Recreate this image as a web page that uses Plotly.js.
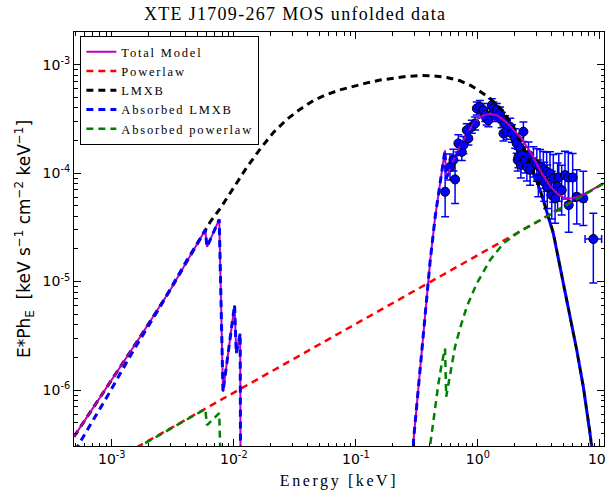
<!DOCTYPE html>
<html><head><meta charset="utf-8">
<script src="https://cdn.plot.ly/plotly-3.0.1.min.js"></script>
<style>
html,body{margin:0;padding:0;background:#fff;}
#chart{width:606px;height:491px;}
.gtitle{letter-spacing:1.3px;}
.xtitle{letter-spacing:2.6px;}
.legendtext{letter-spacing:1.8px;}
</style></head><body><div id="chart"></div>
<script>
// ---- data ----
const dataE = [0.539,0.591,0.630,0.650,0.692,0.738,0.760,0.811,0.836,0.891,0.949,0.980,1.04,1.11,1.15,1.18,1.22,1.30,1.34,1.38,1.43,1.52,1.57,1.62,1.67,1.72,1.84,1.90,2.02,2.08,2.12,2.15,2.22,2.25,2.29,2.36,2.44,2.52,2.60,2.68,2.85,3.04,3.13,3.23,3.44,3.50,3.66,3.70,3.90,4.03,4.15,4.29,4.50,4.60,4.86,5.17,5.51,5.55,5.98,6.46,7.31,8.83];
const dataF = [6.73e-5,1.14e-4,1.32e-4,8.75e-5,1.88e-4,1.57e-4,1.81e-4,2.49e-4,2.09e-4,2.67e-4,2.87e-4,3.95e-4,4.08e-4,3.81e-4,3.43e-4,3.19e-4,3.08e-4,4.23e-4,3.95e-4,3.43e-4,3.81e-4,3.55e-4,3.08e-4,2.32e-4,2.87e-4,2.41e-4,2.67e-4,2.32e-4,2.09e-4,1.88e-4,1.32e-4,1.41e-4,1.69e-4,1.19e-4,1.47e-4,2.41e-4,1.32e-4,1.14e-4,1.47e-4,1.07e-4,1.27e-4,1.19e-4,8.93e-5,1.14e-4,1.07e-4,8.32e-5,1.03e-4,7.48e-5,9.93e-5,6.27e-5,8.93e-5,5.85e-5,7.48e-5,9.12e-5,6.97e-5,9.59e-5,9.12e-5,5.07e-5,9.12e-5,6.05e-5,5.85e-5,2.47e-5];
const dataErrUp = [4.70e-5,3.63e-5,3.42e-5,5.78e-5,3.80e-5,3.17e-5,3.66e-5,3.69e-5,3.09e-5,3.95e-5,4.25e-5,5.85e-5,6.04e-5,5.64e-5,5.08e-5,4.72e-5,4.56e-5,6.26e-5,5.85e-5,5.08e-5,5.64e-5,5.25e-5,5.39e-5,4.06e-5,5.02e-5,4.22e-5,5.39e-5,4.69e-5,4.81e-5,4.32e-5,3.42e-5,3.65e-5,4.38e-5,3.78e-5,3.81e-5,5.54e-5,4.20e-5,3.98e-5,4.67e-5,4.07e-5,4.83e-5,4.91e-5,4.28e-5,5.07e-5,5.13e-5,4.28e-5,5.29e-5,4.38e-5,5.81e-5,4.14e-5,5.89e-5,4.08e-5,4.94e-5,6.02e-5,4.87e-5,6.33e-5,6.36e-5,3.94e-5,6.02e-5,4.71e-5,4.55e-5,1.80e-5];
const dataErrDn = [2.77e-5,2.75e-5,2.72e-5,3.50e-5,3.16e-5,2.64e-5,3.04e-5,3.21e-5,2.70e-5,3.44e-5,3.70e-5,5.10e-5,5.26e-5,4.91e-5,4.42e-5,4.12e-5,3.97e-5,5.46e-5,5.10e-5,4.42e-5,4.91e-5,4.58e-5,4.59e-5,3.46e-5,4.28e-5,3.59e-5,4.49e-5,3.90e-5,3.91e-5,3.52e-5,2.72e-5,2.90e-5,3.48e-5,2.87e-5,3.03e-5,4.51e-5,3.18e-5,2.95e-5,3.54e-5,2.95e-5,3.51e-5,3.47e-5,2.89e-5,3.51e-5,3.47e-5,2.82e-5,3.49e-5,2.76e-5,3.66e-5,2.49e-5,3.55e-5,2.40e-5,2.97e-5,3.62e-5,2.86e-5,3.81e-5,3.75e-5,2.22e-5,3.62e-5,2.65e-5,2.56e-5,1.50e-5];
const dataXErrUp = [0.02,0.02,0.02,0.02,0.02,0.02,0.02,0.025,0.025,0.025,0.025,0.025,0.03,0.03,0.03,0.03,0.03,0.035,0.035,0.035,0.035,0.04,0.04,0.04,0.045,0.045,0.05,0.05,0.05,0.05,0.05,0.05,0.06,0.06,0.06,0.06,0.07,0.07,0.07,0.08,0.08,0.1,0.1,0.1,0.1,0.12,0.12,0.12,0.12,0.15,0.15,0.15,0.18,0.18,0.2,0.22,0.25,0.25,0.3,0.35,0.4,1.5];
const dataXErrDn = [0.02,0.02,0.02,0.02,0.02,0.02,0.02,0.025,0.025,0.025,0.025,0.025,0.03,0.03,0.03,0.03,0.03,0.035,0.035,0.035,0.035,0.04,0.04,0.04,0.045,0.045,0.05,0.05,0.05,0.05,0.05,0.05,0.06,0.06,0.06,0.06,0.07,0.07,0.07,0.08,0.08,0.1,0.1,0.1,0.1,0.12,0.12,0.12,0.12,0.15,0.15,0.15,0.18,0.18,0.2,0.22,0.25,0.25,0.3,0.35,0.4,1.28];

const totalE = [4.9e-4,1.71e-3,3.01e-3,5.83e-3,6.03e-3,7.59e-3,8.15e-3,1.014e-2,1.047e-2,1.127e-2,1.143e-2,0.28,0.297,0.331,0.372,0.407,0.447,0.490,0.537,0.550,0.631,0.708,0.794,0.891,1.0,1.122,1.259,1.413,1.585,1.778,1.995,2.239,2.512,2.818,3.162,3.548,3.981,4.467,5.012,5.623,6.310,7.079,7.943,8.913,10.72];
const totalF = [3.72e-7,3.10e-6,8.36e-6,2.99e-5,2.09e-5,3.74e-5,9.64e-7,6.07e-6,2.18e-6,3.33e-6,1e-8,1e-8,3.47e-7,1.26e-6,5.01e-6,1.58e-5,3.98e-5,8.51e-5,1.62e-4,8.91e-5,1.32e-4,1.74e-4,2.19e-4,2.72e-4,3.16e-4,3.43e-4,3.51e-4,3.43e-4,3.16e-4,2.82e-4,2.45e-4,2.14e-4,1.76e-4,1.43e-4,1.11e-4,8.91e-5,7.41e-5,6.46e-5,5.96e-5,5.82e-5,5.96e-5,6.24e-5,6.68e-5,7.16e-5,8.04e-5];

const powE = [4.9e-4,6.21e-3,1.99e-2,0.231,3.23,10.67];
const powF = [1.40e-7,7.02e-7,1.48e-6,7.00e-6,3.69e-5,8.04e-5];

const lmxbE = [4.9e-4,1.71e-3,3.01e-3,5.83e-3,6.41e-3,7.74e-3,9.95e-3,1.28e-2,1.65e-2,2.11e-2,2.72e-2,3.50e-2,4.50e-2,5.78e-2,7.43e-2,9.55e-2,0.123,0.158,0.203,0.262,0.337,0.433,0.556,0.714,0.863,1.009,1.259,1.585,1.995,2.512,3.228,3.436,4.150,5.012,5.689,6.457,7.311,8.299,9.55];
const lmxbF = [3.72e-7,3.10e-6,8.36e-6,2.99e-5,3.56e-5,4.73e-5,7.23e-5,1.135e-4,1.68e-4,2.37e-4,3.13e-4,3.89e-4,4.68e-4,5.31e-4,5.86e-4,6.34e-4,6.79e-4,7.21e-4,7.55e-4,7.80e-4,7.94e-4,7.89e-4,7.62e-4,7.10e-4,6.47e-4,5.82e-4,4.88e-4,3.80e-4,2.57e-4,1.48e-4,7.08e-5,5.69e-5,2.80e-5,9.66e-6,4.76e-6,2.34e-6,1.07e-6,4.0e-7,1e-7];

const absLmxbE = [5.01e-4,5.52e-4,9.14e-4,1.51e-3,2.49e-3,4.13e-3,5.31e-3,5.83e-3,6.03e-3,7.59e-3,8.15e-3,1.014e-2,1.047e-2,1.127e-2,1.143e-2,0.28,0.297,0.331,0.372,0.407,0.447,0.490,0.537,0.550,0.631,0.794,1.0,1.259,1.585,1.995,2.512,3.228,3.436,4.150,5.012,5.689,6.457,7.311,8.299,8.570,9.55];
const absLmxbF = [2.75e-7,3.34e-7,8.67e-7,2.34e-6,5.86e-6,1.58e-5,2.50e-5,2.99e-5,2.09e-5,3.74e-5,9.64e-7,6.07e-6,2.18e-6,3.33e-6,1e-8,1e-8,3.47e-7,1.26e-6,5.01e-6,1.58e-5,3.98e-5,8.51e-5,1.62e-4,8.91e-5,1.29e-4,2.14e-4,3.09e-4,3.35e-4,2.95e-4,2.19e-4,1.41e-4,6.97e-5,5.64e-5,2.78e-5,9.62e-6,4.74e-6,2.34e-6,1.07e-6,3.99e-7,3.05e-7,1e-7];

const absPowE = [1.26e-3,1.88e-3,5.83e-3,6.03e-3,7.59e-3,8.15e-3,0.355,0.406,0.433,0.475,0.506,0.538,0.550,0.592,0.650,0.714,0.811,0.979,1.259,1.618,2.218,3.228,10.72];
const absPowF = [2.54e-7,3.24e-7,6.68e-7,4.75e-7,6.14e-7,3.2e-8,1e-7,3.11e-7,5.68e-7,1.15e-6,1.76e-6,2.42e-6,8.67e-7,1.43e-6,2.51e-6,3.71e-6,5.86e-6,9.62e-6,1.58e-5,2.25e-5,2.92e-5,3.66e-5,8.02e-5];

const xTickVals = [1e-3,1e-2,1e-1,1,10];
const xTickText = ['10<sup>-3</sup>','10<sup>-2</sup>','10<sup>-1</sup>','10<sup>0</sup>','10<sup>1</sup>'];
const yTickVals = [1e-6,1e-5,1e-4,1e-3];
const yTickText = ['10<sup>-6</sup>','10<sup>-5</sup>','10<sup>-4</sup>','10<sup>-3</sup>'];

// minor tick positions (2..9 of each decade)
function minorTicks(lo, hi){const v=[];for(let p=lo;p<=hi;p++){for(let m=2;m<=9;m++){v.push(m*Math.pow(10,p));}}return v;}

const dashPat = '7px,5px';
const traces = [
  {x:dataE, y:dataF, type:'scatter', mode:'markers', showlegend:false, hoverinfo:'skip',
   marker:{size:9, color:'#0000ff', line:{color:'black', width:1}},
   error_y:{type:'data', symmetric:false, array:dataErrUp, arrayminus:dataErrDn, color:'#0000ff', thickness:1.5, width:4},
   error_x:{type:'data', symmetric:false, array:dataXErrUp, arrayminus:dataXErrDn, color:'#0000ff', thickness:1.5, width:4}},
  {x:lmxbE, y:lmxbF, type:'scatter', mode:'lines', name:'LMXB', legendrank:3,
   line:{color:'black', width:3, dash:dashPat}},
  {x:totalE, y:totalF, type:'scatter', mode:'lines', name:'Total Model', legendrank:1,
   line:{color:'#bf00bf', width:2}},
  {x:powE, y:powF, type:'scatter', mode:'lines', name:'Powerlaw', legendrank:2,
   line:{color:'#ff0000', width:2.5, dash:dashPat}},
  {x:absLmxbE, y:absLmxbF, type:'scatter', mode:'lines', name:'Absorbed LMXB', legendrank:4,
   line:{color:'#0000ff', width:3, dash:dashPat}},
  {x:absPowE, y:absPowF, type:'scatter', mode:'lines', name:'Absorbed powerlaw', legendrank:5,
   line:{color:'#008000', width:2.5, dash:dashPat}}
];

const axisCommon = {type:'log', showgrid:false, zeroline:false, showline:true, linecolor:'black', linewidth:1,
  mirror:'ticks', ticks:'inside', ticklen:7, tickwidth:1, tickcolor:'black', ticklabeloverflow:'allow',
  tickfont:{family:'DejaVu Sans', size:14, color:'black'}, tickmode:'array'};

const layout = {
  width:606, height:491, paper_bgcolor:'white', plot_bgcolor:'white',
  margin:{l:74, r:2, t:32, b:45},
  title:{text:'XTE J1709-267 MOS unfolded data', font:{family:'Liberation Serif', size:18, color:'black'},
    x:0.487, xref:'container', xanchor:'center', y:0.972, yref:'container', yanchor:'middle'},
  xaxis:Object.assign({}, axisCommon, {range:[Math.log10(4.9e-4), Math.log10(10.8)],
    tickvals:xTickVals, ticktext:xTickText,
    minor:{tickmode:'array', tickvals:minorTicks(-4,1), ticks:'inside', ticklen:3.5, tickwidth:1, tickcolor:'black', showgrid:false},
    title:{text:'Energy [keV]', font:{family:'Liberation Serif', size:16, color:'black'}, standoff:9}}),
  yaxis:Object.assign({}, axisCommon, {range:[Math.log10(3.05e-7), Math.log10(2.0e-3)],
    tickvals:yTickVals, ticktext:yTickText,
    minor:{tickmode:'array', tickvals:minorTicks(-7,-3), ticks:'inside', ticklen:3.5, tickwidth:1, tickcolor:'black', showgrid:false},
    title:{text:'E*Ph<sub>E</sub>&nbsp; [keV s<sup>−1</sup> cm<sup>−2</sup> keV<sup>−1</sup>]', font:{family:'DejaVu Sans', size:17, color:'black'}, standoff:7}}),
  legend:{x:0.012, y:0.99, xanchor:'left', yanchor:'top', bgcolor:'white', bordercolor:'black', borderwidth:1,
    font:{family:'Liberation Serif', size:12.5, color:'black'}, itemwidth:30, tracegroupgap:0, traceorder:'normal'},
  showlegend:true
};

Plotly.newPlot('chart', traces, layout, {staticPlot:true, displayModeBar:false});
</script></body></html>
